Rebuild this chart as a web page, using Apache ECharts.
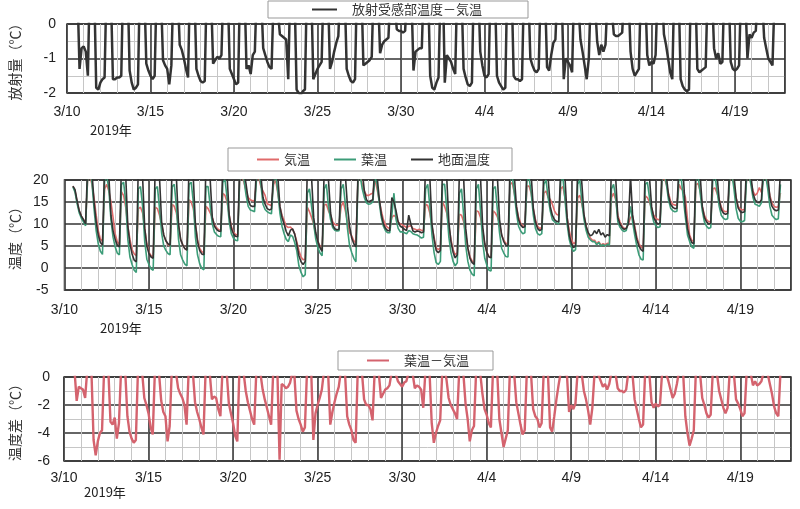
<!DOCTYPE html>
<html><head><meta charset="utf-8">
<script src="https://cdn.jsdelivr.net/npm/echarts@6/dist/echarts.min.js"></script>
<style>html,body{margin:0;padding:0;background:#fff}#c{width:800px;height:509px}</style>
</head><body><div id="c"></div>
<script>
// sampling hours within each day (rows = days 3/10 .. 4/21)
const hours = [0,3,6,9,12,15,18,21];
const tickLabels = ['3/10','3/15','3/20','3/25','3/30','4/4','4/9','4/14','4/19'];
const yearLabel = '2019年';
const n = null;

// Panel 1: 放射受感部温度－気温
const radiation = [
[n,n,n,n,1.5,1.0,-1.3,-0.7],
[-0.65,-0.8,-1.5,1.5,2.0,1.2,-1.85,-1.9],
[-1.7,-1.6,-1.55,1.4,2.1,1.0,-1.6,-1.6],
[-1.55,-1.55,-1.5,1.6,1.9,1.3,-1.35,-1.7],
[-1.9,-1.85,-1.75,1.5,2.0,1.1,-1.15,-1.35],
[-1.5,-1.6,-1.5,1.3,1.8,0.9,-1.05,-1.2],
[-1.3,-1.75,-1.2,1.2,1.7,1.0,-0.6,-0.75],
[-1.0,-1.3,-1.55,1.5,2.0,1.1,-1.3,-1.5],
[-1.65,-1.7,-1.65,1.4,1.8,0.9,-1.15,-1.05],
[-0.95,-1.0,-0.9,1.3,1.9,1.0,-1.3,-1.45],
[-1.6,-1.75,-1.7,1.5,2.0,1.2,-1.3,-1.2],
[-1.45,-0.9,-0.8,1.2,1.6,0.9,-0.7,-0.9],
[-1.1,-1.25,-1.3,0.8,1.0,0.4,-0.3,-0.35],
[-0.4,-0.45,-1.6,1.2,1.8,1.0,-1.9,-2.0],
[-2.05,-1.95,-1.9,1.4,1.9,1.1,-1.6,-1.45],
[-1.3,-1.2,-1.1,1.3,1.7,1.0,-1.3,-1.1],
[-0.8,-0.55,-0.35,1.2,1.8,1.1,-1.3,-1.5],
[-1.65,-1.7,-1.6,1.5,2.0,1.2,-1.2,-1.15],
[-1.1,-1.05,-0.95,1.3,1.7,0.9,-0.85,-0.6],
[-0.5,-0.45,-0.4,1.0,1.4,0.6,-0.15,-0.2],
[-0.2,-0.25,-0.2,1.1,1.6,0.9,-1.35,-0.8],
[-0.75,-0.7,-0.7,1.4,2.0,1.1,-1.5,-1.85],
[-1.9,-1.7,-1.55,1.2,1.5,-1.7,-0.9,-1.0],
[-1.1,-1.3,-1.45,1.3,1.9,1.0,-1.3,-1.55],
[-1.75,-1.8,-1.7,1.5,2.0,1.1,-0.8,-1.2],
[-1.5,-1.55,-1.45,1.4,1.9,1.1,-1.5,-1.7],
[-1.8,-1.9,-1.85,1.5,2.0,1.2,-1.5,-1.6],
[-1.6,-1.65,-1.6,1.3,1.8,1.0,-1.0,-1.2],
[-1.35,-1.4,-1.3,1.2,1.7,1.0,-1.25,-1.35],
[-0.9,-0.55,-0.45,1.1,1.6,0.9,-1.6,-1.0],
[-1.1,-1.2,-1.4,1.2,1.7,0.6,-0.45,-0.8],
[-1.2,-1.6,-1.0,1.0,1.4,0.6,-0.5,-0.9],
[-0.6,-0.8,-0.6,0.8,1.2,0.4,-0.3,-0.35],
[-0.35,-0.3,-0.25,1.0,1.6,0.9,-0.8,-1.3],
[-1.5,-1.4,-1.3,1.2,1.8,1.0,-0.9,-1.2],
[-1.1,-1.15,-0.9,1.1,1.7,1.0,-0.3,-0.6],
[-1.0,-1.4,-1.6,1.3,1.9,1.1,-1.6,-1.8],
[-1.9,-1.95,-1.9,1.5,2.0,1.2,-1.3,-1.4],
[-1.35,-1.3,-1.25,1.2,1.7,1.0,-0.7,-1.0],
[-0.85,-1.15,-1.1,1.3,1.8,1.0,-1.1,-1.3],
[-1.35,-1.3,-1.2,1.2,1.6,0.8,-1.0,-0.3],
[-0.4,-0.25,-0.2,0.9,1.5,0.8,-0.4,-0.7],
[-1.0,-1.1,-1.2,0.8,n,n,n,n]
];

// Panel 2: 気温
const airTemp = [
[n,n,n,n,18.6,17.6,15.0,13.0],
[11.8,11.0,10.2,20.5,21,19,16,12],
[8.5,6.6,6.0,18,19,17.5,15,11.5],
[7.8,6,5.2,17.3,16.5,13.8,9.5,6.5],
[4.2,3.2,2.8,13.5,13.8,12.5,9,5.5],
[3.6,2.8,2.6,13.8,13.5,12,10,7.5],
[6.2,5.3,5.0,14.5,14,12.5,9.5,6.5],
[5.3,4.4,4.1,15.5,15,13.5,10,6.5],
[4.5,3.7,3.5,14,13.5,12.5,11.5,9.8],
[9.2,8.7,8.6,17,16.5,15,12,9.5],
[8.2,7.6,7.5,20.5,21,19.5,17.5,16],
[15.5,15.3,15.3,20.5,20.5,18.5,17.5,16.5],
[14.6,14.4,14.2,19,20,17,14,12],
[10.8,9.5,9.2,9.3,8.8,7.8,6.0,4.0],
[2.5,1.9,2.0,13.8,12.8,11.5,10,7.5],
[6,5,4.5,14.3,14.5,13,12,10.5],
[9.9,9.7,9.8,14,15,13,10.5,8],
[7.3,6.2,5.6,20.5,21,19,17.5,16.5],
[16.5,16.8,17,20,18,15.5,13,11],
[9.8,9.2,9.0,11.5,12,11.5,10.5,10],
[9.8,9.5,9.2,9.5,9.6,9.0,8.8,8.6],
[8.8,8.6,8.5,14.5,14.2,12.5,9.5,7],
[4.6,4.2,4.5,15,14,12.5,9.5,6.5],
[4.2,3.0,3.5,12.2,12,10.5,7.5,4.5],
[2.5,1.6,1.2,13,12.8,11.5,8.5,5.5],
[3.6,2.6,2.5,13,12.5,11.6,10,7.5],
[6.3,5.6,5.5,19,19.4,17,14,11.5],
[10.2,9.5,9.6,18.6,18.6,17,13.5,11],
[9.5,9.0,9.2,17,17.5,16,15.6,14.5],
[13,12.2,12,18,18.5,16,11.5,8.5],
[6.5,5.5,5.8,16,16.5,14.5,12,9.5],
[7.5,6.8,6.3,6.3,5.6,6.0,5.2,5.5],
[5.3,5.6,5.5,16,17,15.5,12,10.5],
[9.5,9,9,10,11.5,11.8,9.5,7],
[5.5,4.8,4.5,16.4,16,15,13.5,12],
[11.3,11,11,20,20.5,19,17,15.2],
[14.5,14.3,14.3,19,18,17.5,16,11],
[7.5,6.3,6,19,19.2,17.5,14,12],
[11,10.5,10.6,18,18.2,17,15.5,13.8],
[13,12.8,12.9,20.5,21,19,16,14],
[13.4,13.2,13.3,20.5,21,19.5,17.5,16.5],
[17,18.3,17.2,20.5,21,19,16.5,14.8],
[14,13.8,13.9,17.1,n,n,n,n]
];

// Panel 2: 葉温
const leafTemp = [
[n,n,n,n,18.4,17.2,14.6,12.5],
[11.3,10.5,9.6,21,22,19.5,13.5,8.5],
[5.5,3.8,3.1,20,21,18,11,7],
[4.8,3.4,3.0,19,19.5,15,6.5,2.5],
[0.8,-0.5,-1.0,18,18.5,14,6,2],
[0.8,-0.2,-0.5,18,18.5,13.5,8,5],
[4,3.3,3.0,18.5,19,14,6.5,3],
[1.8,0.9,0.5,19,19.5,15,7,3],
[1,-0.1,-0.4,18.5,18.5,14,10,8.2],
[7.6,7.2,7.1,19.5,20,16,10.5,7.8],
[6.8,6.3,6.2,21,21.5,20,16.5,14],
[13.2,13,12.8,21,21.5,19,14.5,13.3],
[12.8,12.5,12.3,20,21,17.5,12.5,9.5],
[7.8,6.5,6.0,7.5,7.2,5.8,3.9,0.5],
[-1.0,-2.0,-1.5,17,18,14,10,6.5],
[4.6,3.4,2.8,18,19,14,11,9.2],
[8.6,8.4,8.5,18,19,14.5,9,5],
[3.5,2.2,1.4,20.5,21,18,16,14.8],
[14.5,14.6,15,21,19,15,11.5,9.5],
[8.5,8.0,8.0,12,17,11,9,8.2],
[8.2,8,7.8,8.5,8.3,7.8,7.6,7.5],
[7.2,6.8,7.0,18,19,14,7.5,3.5],
[1.2,0.8,1.5,19,19,13.5,7,3.5],
[1.5,0.5,1.2,17,18,12,5,1.5],
[-0.5,-1.4,-1.8,18,19,13,6,2.2],
[0.6,-0.5,-0.7,18,18.5,13,8,4.5],
[3.4,2.6,2.5,20,21,17,12.5,9.5],
[8.4,7.8,8.0,20,20.5,17,12,9],
[7.8,7.5,7.8,19,20,16,13,11],
[10.5,10.2,10,20,20.5,15.5,10,6.5],
[4.7,3.8,4.2,19,20,15,11,8.5],
[7,6.4,6.0,6.0,5.3,5.8,5.0,5.3],
[5.0,5.4,5.2,18,19,16,10.5,9.3],
[8.6,8.3,8.5,11,14,10.5,7.5,5],
[3,2,1.8,19,19.5,16,12.5,10.5],
[9.6,9.2,9.4,21,21.5,19,15.5,13.6],
[13,12.8,12.9,21,20.5,16,11.5,7.5],
[6,4.8,4.5,21,21,17,13,10.5],
[9.5,9,9.2,20.5,21,17.5,14,12],
[11.3,11,11.2,21,21.5,18,13.5,11.3],
[10.6,10.5,10.8,21,21.5,19,16,14.5],
[14.3,14,14.8,21,21,18,14,12],
[11.4,11,11.2,19,n,n,n,n]
];

// Panel 2: 地面温度
const groundTemp = [
[n,n,n,n,18.6,17.8,15.2,13.0],
[11.8,11.0,10.0,24,26,22,15,10.5],
[7.5,5.8,5.2,24,26,21,12,8.5],
[6.5,5.2,4.8,24,26,21,9.5,5.5],
[3.2,1.8,1.4,24,26,20.5,9,5],
[3.3,2.5,2.2,24,26,20.5,10.5,7.5],
[6.2,5.5,5.2,24,26,20.5,10,6.5],
[5.2,4.4,4.1,24,26,20.5,10,6],
[4,3.2,3.0,24,26,20,11.5,9.5],
[8.8,8.4,8.3,24,26,21,12,9],
[7.8,7.2,7.1,24,26,22,19,15.5],
[14.2,14,14,24,26,21,16,14.5],
[13.5,13.2,13.4,22,24,21,14,11.5],
[10,8.3,7.3,8.6,8.9,7.7,5.5,2.8],
[1.4,0.8,1.5,23,25,20.5,11.5,8],
[6,4.6,3.8,23,25,20,12.5,9.8],
[8.9,8.7,8.8,22,24,21,14,9.5],
[6.8,5.5,4.8,22,25,22,17.5,15.5],
[15,15.3,15.5,24,21,16,12.3,10],
[9,8.5,8.5,16,15,13,10.5,9.5],
[9.2,8.8,8.5,12,10,8.4,8.2,8.4],
[8.3,8.0,8.2,24,26,20.5,10,6.5],
[4.0,3.5,4.0,23,25,20.5,10.5,6],
[3.6,2.3,3.0,22,25,20.5,9,4.5],
[2.2,1.2,0.8,23,25,20.5,9.5,5.5],
[3.5,2.5,2.3,23,25,20.5,11,7.5],
[6,5.2,5.0,24,26,21,14,11],
[9.8,9.2,9.4,24,26,21,13.5,10.5],
[9.0,8.5,8.8,23,25,20.5,14,12],
[11,10.6,10.5,23,25,20.5,11.5,7.5],
[5.6,4.6,5.0,23,25,19,12,9.5],
[8,7.3,7.6,8.5,7.8,8.8,7.5,8.0],
[7.0,7.6,7.3,23,26,20.5,11.5,10],
[9.2,8.8,9.0,10,21,12,9,6.5],
[5,4.2,3.8,24,26,20.5,14,11.5],
[10.5,10,10.2,24,26,21,16.5,14.5],
[13.8,13.5,13.6,24,26,21,13,9],
[7,5.8,5.5,24,26,21,14,11.5],
[10.5,10,10.2,24,26,21,15.5,13.3],
[12.5,12.2,12.4,24,26,21,16,13.6],
[12.8,12.6,12.8,24,26,21,17,15.5],
[15,14.8,15.5,24,26,21,16,14],
[13.3,13,13.2,22,n,n,n,n]
];

// Panel 3: 葉温－気温
const leafMinusAir = [
[n,n,n,n,0.3,0.4,-1.7,-0.7],
[-0.8,-0.9,-1.5,0.5,0.8,0.3,-4.5,-5.6],
[-4.6,-4.0,-3.8,0.6,0.9,0.4,-3.2,-3.4],
[-2.9,-4.4,-3.3,0.5,0.8,0.3,-2.8,-3.9],
[-4.4,-4.7,-4.5,0.5,0.7,0.3,-1.5,-2.0],
[-2.6,-3.6,-4.1,0.4,0.8,0.2,-1.7,-2.5],
[-2.8,-4.6,-3.5,0.5,0.7,0.3,-0.8,-1.2],
[-1.5,-2.0,-3.4,0.5,0.8,0.3,-1.8,-2.5],
[-3.0,-3.6,-4.1,0.4,0.7,0.2,-1.6,-1.4],
[-1.5,-2.3,-2.8,0.5,0.8,0.3,-1.9,-2.6],
[-3.3,-4.2,-4.6,0.5,0.8,0.3,-1.0,-1.8],
[-2.4,-3.0,-3.4,0.4,0.7,0.2,-0.9,-1.6],
[-2.2,-2.8,-3.4,0.4,0.6,0.2,-5.9,-0.5],
[-0.6,-0.8,-0.7,-0.4,0.3,0.2,-2.4,-3.0],
[-3.4,-3.9,-3.6,0.5,0.8,0.3,-4.5,-2.6],
[-2.0,-1.5,-0.9,0.4,0.7,0.2,-3.4,-2.5],
[-1.8,-1.2,-0.7,0.4,0.7,0.2,-2.8,-3.4],
[-3.8,-4.5,-4.7,0.5,0.8,0.3,-1.6,-2.0],
[-2.0,-2.3,-3.1,0.4,0.7,0.2,-1.5,-1.2],
[-0.9,-0.8,-0.6,0.3,0.5,0.2,-0.3,-0.5],
[-0.7,-0.4,-0.3,0.3,0.5,0.2,-0.8,-0.6],
[-0.7,-0.9,-2.2,0.4,0.7,0.2,-3.3,-4.7],
[-4.0,-3.5,-3.1,0.4,0.6,-0.2,-1.5,-2.0],
[-2.3,-2.6,-3.0,0.4,0.7,0.2,-1.9,-3.0],
[-4.6,-3.8,-3.5,0.4,0.7,0.2,-1.2,-2.3],
[-2.7,-3.3,-3.6,0.5,0.7,0.3,-3.0,-4.0],
[-5.0,-4.4,-3.8,0.5,0.8,0.3,-1.8,-2.6],
[-3.4,-4.1,-3.8,0.4,0.7,0.2,-2.3,-2.8],
[-3.0,-3.6,-3.3,0.4,0.7,0.2,-3.6,-3.9],
[-2.8,-1.6,-0.6,0.3,0.6,0.2,0.1,-2.5],
[-2.0,-2.3,-1.9,0.3,0.6,0.2,-1.0,-1.6],
[-2.4,-3.4,-2.2,0.2,0.4,0.1,-0.3,-0.7],
[-0.5,-0.9,-0.5,0.3,0.5,0.2,-0.8,-1.0],
[-1.0,-1.1,-0.9,0.3,0.5,0.2,-1.6,-2.3],
[-3.0,-3.6,-3.4,0.4,0.6,0.2,-1.8,-2.2],
[-1.9,-2.1,-2.0,0.3,0.6,0.2,-0.3,-0.9],
[-1.5,-1.2,-0.5,0.4,0.7,0.2,-2.8,-4.0],
[-4.9,-4.4,-3.8,0.5,0.7,0.2,-1.5,-2.0],
[-2.6,-2.9,-2.7,0.4,0.6,0.2,-1.0,-1.6],
[-2.2,-2.6,-2.2,0.4,0.6,0.2,-1.6,-1.9],
[-2.3,-2.8,-2.6,0.3,0.5,0.2,-0.6,-0.3],
[-0.6,-0.5,-0.3,0.3,0.5,0.2,-0.5,-1.2],
[-2.1,-2.6,-2.8,0.3,n,n,n,n]
];

function toPoints(rows){
  const pts = [];
  rows.forEach((row, d) => row.forEach((v, j) => pts.push([d + hours[j] / 24, v])));
  return pts;
}

const FONT = '"Noto Sans CJK JP", "Liberation Sans", sans-serif';
const LABEL_FONT = '"Liberation Sans", Arial, sans-serif';
const DARK = '#333';
const LIGHT = '#c6c6c6';

function xPair(gi, margin){
  return [
    {gridIndex: gi, type: 'value', min: 0, max: 43, interval: 1, position: 'bottom',
     axisLine: {show: false}, axisTick: {show: false}, axisLabel: {show: false},
     splitLine: {show: true, lineStyle: {color: LIGHT, width: 1}}},
    {gridIndex: gi, type: 'value', min: 0, max: 43, interval: 5, position: 'bottom',
     axisLine: {show: false}, axisTick: {show: false},
     axisLabel: {margin: margin, fontSize: 14, color: '#222', fontFamily: LABEL_FONT, showMaxLabel: false,
       formatter: v => (v % 5 === 0 && tickLabels[v / 5]) ? tickLabels[v / 5] : ''},
     splitLine: {show: true, lineStyle: {color: DARK, width: 1.5}}}
  ];
}
function yAxis(gi, min, max, interval, name, gap, margin, minor){
  return {gridIndex: gi, type: 'value', min: min, max: max, interval: interval,
    name: name, nameLocation: 'middle', nameGap: gap, nameRotate: 90,
    nameTextStyle: {fontSize: 14, color: '#333', fontFamily: FONT},
    axisLine: {show: false}, axisTick: {show: false},
    axisLabel: {margin: margin, fontSize: 14, color: '#222', fontFamily: LABEL_FONT},
    splitLine: {show: true, lineStyle: {color: DARK, width: 1.5}},
    minorTick: {show: false, splitNumber: 2},
    minorSplitLine: {show: minor, lineStyle: {color: LIGHT, width: 1}}};
}
function line(name, xi, yi, rows, color, width){
  return {name: name, type: 'line', xAxisIndex: xi, yAxisIndex: yi, data: toPoints(rows),
    showSymbol: false, symbol: 'none', clip: true, connectNulls: false,
    lineStyle: {color: color, width: width}, itemStyle: {color: color}};
}

const RED = '#e06a6a', GREEN = '#3c9c78', BLACK = '#333333', RED3 = '#d4636e';

const chart = echarts.init(document.getElementById('c'), null, {renderer: 'canvas'});
chart.setOption({
  animation: false,
  backgroundColor: '#fff',
  grid: [
    {left: 58, right: 15, top: 24, height: 69, show: true, borderColor: DARK, borderWidth: 1.5},
    {left: 54.5, right: 9, top: 180, height: 110, show: true, borderColor: DARK, borderWidth: 1.5},
    {left: 54, right: 9, top: 377, height: 84, show: true, borderColor: DARK, borderWidth: 1.5}
  ],
  xAxis: [].concat(xPair(0, 12), xPair(1, 13), xPair(2, 10)),
  yAxis: [
    yAxis(0, -2, 0, 1, '放射量（℃）', 45, 11, true),
    yAxis(1, -5, 20, 5, '温度（℃）', 42, 16, false),
    yAxis(2, -6, 0, 2, '温度差（℃）', 42, 14, true)
  ],
  legend: [
    {data: ['放射受感部温度－気温'], left: 268, top: 1, padding: [2, 46, 2, 44],
     borderColor: '#999', borderWidth: 1, itemWidth: 25, itemHeight: 2, icon: 'rect',
     textStyle: {fontSize: 13, color: '#333', fontFamily: FONT, padding: [0, 0, 0, 10]}},
    {data: ['気温', '葉温', '地面温度'], left: 228, top: 148, padding: [5, 22, 5, 29], itemGap: 24,
     borderColor: '#999', borderWidth: 1, itemWidth: 22, itemHeight: 2, icon: 'rect',
     textStyle: {fontSize: 13, color: '#333', fontFamily: FONT}},
    {data: ['葉温－気温'], left: 338, top: 351, padding: [3, 24, 3, 29],
     borderColor: '#999', borderWidth: 1, itemWidth: 22, itemHeight: 2, icon: 'rect',
     textStyle: {fontSize: 13, color: '#333', fontFamily: FONT, padding: [0, 0, 0, 10]}}
  ],
  graphic: [
    {type: 'text', left: 90, top: 124, style: {text: yearLabel, font: '13px ' + FONT, fill: '#222'}},
    {type: 'text', left: 100, top: 322, style: {text: yearLabel, font: '13px ' + FONT, fill: '#222'}},
    {type: 'text', left: 84, top: 486, style: {text: yearLabel, font: '13px ' + FONT, fill: '#222'}}
  ],
  series: [
    line('放射受感部温度－気温', 1, 0, radiation, BLACK, 2.5),
    line('気温', 3, 1, airTemp, RED, 1.6),
    line('葉温', 3, 1, leafTemp, GREEN, 1.6),
    line('地面温度', 3, 1, groundTemp, BLACK, 1.6),
    line('葉温－気温', 5, 2, leafMinusAir, RED3, 2.4)
  ]
});
</script>
</body></html>
